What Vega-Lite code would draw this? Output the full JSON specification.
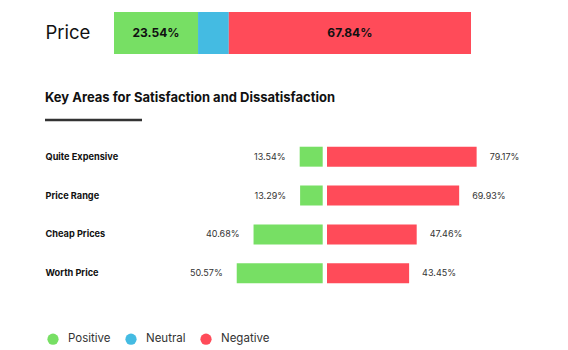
{
  "$schema": "https://vega.github.io/schema/vega-lite/v6.json",
  "padding": {"left": 43, "top": 12, "right": 5, "bottom": 5},
  "background": "white",
  "config": {
    "font": "Inter",
    "view": {"stroke": null}
  },
  "datasets": {
    "overall": [
      {"aspect": "Price", "sentiment": "Positive", "value": 23.54, "label": "23.54%"},
      {"aspect": "Price", "sentiment": "Neutral", "value": 8.62, "label": ""},
      {"aspect": "Price", "sentiment": "Negative", "value": 67.84, "label": "67.84%"}
    ],
    "areas": [
      {"area": "Quite Expensive", "positive": 13.54, "negative": 79.17},
      {"area": "Price Range", "positive": 13.29, "negative": 69.93},
      {"area": "Cheap Prices", "positive": 40.68, "negative": 47.46},
      {"area": "Worth Price", "positive": 50.57, "negative": 43.45}
    ]
  },
  "spacing": 15,
  "vconcat": [
    {
      "width": 426,
      "height": 64,
      "data": {"name": "overall"},
      "transform": [
        {"calculate": "indexof(['Positive','Neutral','Negative'], datum.sentiment)", "as": "rank"},
        {"stack": "value", "groupby": ["aspect"], "sort": [{"field": "rank", "order": "ascending"}], "as": ["v0", "v1"]},
        {"calculate": "(datum.v0 + datum.v1) / 2", "as": "mid"}
      ],
      "encoding": {
        "y": {
          "field": "aspect", "type": "nominal",
          "scale": {"paddingInner": 0, "paddingOuter": 0.2619, "align": 0},
          "axis": {"title": null, "ticks": false, "domain": false, "labelAlign": "left", "labelPadding": 0, "labelFontSize": 18.5, "labelColor": "#111", "labelFont": "Inter", "labelBaseline": "middle"}
        }
      },
      "layer": [
        {
          "mark": {"type": "bar"},
          "encoding": {
            "x": {"field": "v0", "type": "quantitative", "scale": {"domain": [0, 100], "range": [69, 426]}, "axis": null},
            "x2": {"field": "v1"},
            "color": {
              "field": "sentiment", "type": "nominal",
              "scale": {"domain": ["Positive", "Neutral", "Negative"], "range": ["#77DF64", "#44BBE2", "#FF4B59"]},
              "legend": {"orient": "bottom", "direction": "horizontal", "title": null, "symbolType": "circle", "symbolSize": 125, "symbolStrokeWidth": 0, "symbolOpacity": 1, "labelFontSize": 11.5, "labelColor": "#333", "labelFont": "Inter", "labelOffset": 9, "columnPadding": 14, "padding": 2, "offset": 38}
            }
          }
        },
        {
          "mark": {"type": "text", "fontWeight": "bold", "fontSize": 12, "color": "#111", "baseline": "middle", "align": "center"},
          "encoding": {
            "x": {"field": "mid", "type": "quantitative"},
            "text": {"field": "label"}
          }
        }
      ]
    },
    {
      "width": 97,
      "height": 1,
      "title": {"text": "Key Areas for Satisfaction and Dissatisfaction", "anchor": "start", "frame": "group", "fontSize": 13, "fontWeight": "bold", "color": "#111", "font": "Inter", "offset": 14},
      "data": {"values": [{}]},
      "mark": {"type": "rule", "color": "#333", "strokeWidth": 2.5},
      "encoding": {"y": {"value": 0}}
    },
    {
      "width": 432,
      "height": 156,
      "data": {"name": "areas"},
      "transform": [
        {"calculate": "format(datum.positive, '.2f') + '%'", "as": "posLabel"},
        {"calculate": "format(datum.negative, '.2f') + '%'", "as": "negLabel"}
      ],
      "encoding": {
        "y": {
          "field": "area", "type": "nominal",
          "sort": ["Quite Expensive", "Price Range", "Cheap Prices", "Worth Price"],
          "scale": {"paddingInner": 0.487, "paddingOuter": 0.25},
          "axis": {"title": null, "ticks": false, "domain": false, "labelAlign": "left", "labelPadding": 0, "labelFontSize": 9.2, "labelFontWeight": "bold", "labelColor": "#111", "labelFont": "Inter", "labelBaseline": "middle"}
        }
      },
      "layer": [
        {
          "encoding": {
            "x": {"field": "positive", "type": "quantitative", "scale": {"domain": [0, 100], "range": [277.7, 107.7]}, "axis": null}
          },
          "layer": [
            {
              "mark": {"type": "bar"},
              "encoding": {
                "color": {"datum": "Positive", "type": "nominal", "scale": {"domain": ["Positive", "Neutral", "Negative"], "range": ["#77DF64", "#44BBE2", "#FF4B59"]}}
              }
            },
            {
              "mark": {"type": "text", "align": "right", "baseline": "middle", "dx": -14, "fontSize": 9, "color": "#333"},
              "encoding": {"text": {"field": "posLabel"}}
            }
          ]
        },
        {
          "encoding": {
            "x": {"field": "negative", "type": "quantitative", "scale": {"domain": [0, 100], "range": [282, 471]}, "axis": null}
          },
          "layer": [
            {
              "mark": {"type": "bar"},
              "encoding": {
                "color": {"datum": "Negative", "type": "nominal", "scale": {"domain": ["Positive", "Neutral", "Negative"], "range": ["#77DF64", "#44BBE2", "#FF4B59"]}}
              }
            },
            {
              "mark": {"type": "text", "align": "left", "baseline": "middle", "dx": 13, "fontSize": 9, "color": "#333"},
              "encoding": {"text": {"field": "negLabel"}}
            }
          ]
        }
      ],
      "resolve": {"scale": {"x": "independent"}}
    }
  ]
}
